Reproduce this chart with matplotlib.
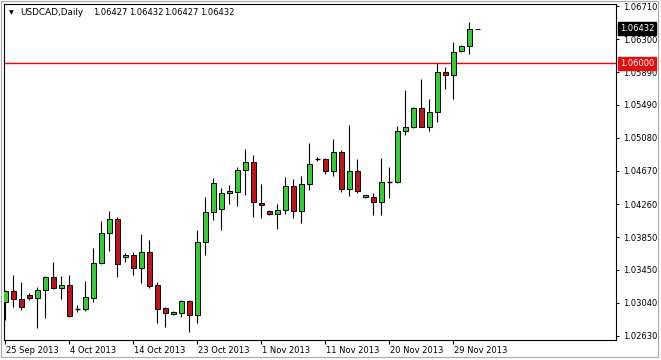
import matplotlib
matplotlib.use("Agg")
import matplotlib.pyplot as plt
import matplotlib.transforms as mtransforms
from matplotlib.patches import Rectangle
import numpy as np
import pandas as pd

# ---- data ----
symbol_title = "USDCAD,Daily"
last_quote = ["1.06427", "1.06432", "1.06427", "1.06432"]
all_days = pd.date_range("2013-09-25", "2013-12-03", freq="D")
dates = all_days[all_days.weekday != 5]  # broker feed has Sunday bars, no Saturday

opens = [
    1.03046, 1.03186, 1.03084, 1.03133, 1.03103, 1.03195, 1.03356, 1.03227, 1.03257, 1.02964,
    1.02960, 1.03103, 1.03529, 1.03900, 1.04073, 1.03603, 1.03628, 1.03474, 1.03665, 1.03257,
    1.02972, 1.02898, 1.02918, 1.03059, 1.02886, 1.03788, 1.04163, 1.04196, 1.04394, 1.04414,
    1.04678, 1.04777, 1.04270, 1.04172, 1.04134, 1.04184, 1.04481, 1.04175, 1.04505, 1.04818,
    1.04818, 1.04674, 1.04901, 1.04451, 1.04666, 1.04345, 1.04352, 1.04290, 1.04534, 1.04534,
    1.05168, 1.05210, 1.05445, 1.05218, 1.05396, 1.05894, 1.05853, 1.06150, 1.06215, 1.06427]
highs = [
    1.03198, 1.03384, 1.03301, 1.03158, 1.03232, 1.03372, 1.03545, 1.03368, 1.03380, 1.03013,
    1.03310, 1.03714, 1.04052, 1.04175, 1.04105, 1.03660, 1.03665, 1.03891, 1.03817, 1.03294,
    1.02992, 1.02933, 1.03069, 1.03075, 1.03940, 1.04345, 1.04580, 1.04456, 1.04497, 1.04723,
    1.04938, 1.04868, 1.04509, 1.04188, 1.04258, 1.04596, 1.04571, 1.04608, 1.05016, 1.04843,
    1.04834, 1.05062, 1.04929, 1.05239, 1.04818, 1.04373, 1.04402, 1.04831, 1.04716, 1.05230,
    1.05671, 1.05465, 1.05807, 1.05560, 1.06001, 1.05952, 1.06261, 1.06224, 1.06508, 1.06432]
lows = [
    1.02828, 1.02992, 1.02951, 1.03075, 1.02725, 1.02849, 1.03207, 1.03091, 1.02868, 1.02930,
    1.02939, 1.03046, 1.03515, 1.03684, 1.03363, 1.03548, 1.03388, 1.03289, 1.03219, 1.02787,
    1.02745, 1.02883, 1.02861, 1.02683, 1.02794, 1.03631, 1.04064, 1.03940, 1.04258, 1.04241,
    1.04377, 1.04097, 1.04085, 1.04126, 1.03949, 1.04134, 1.04085, 1.04023, 1.04435, 1.04793,
    1.04629, 1.04608, 1.04414, 1.04364, 1.04402, 1.04339, 1.04126, 1.04126, 1.04332, 1.04525,
    1.05119, 1.05201, 1.05214, 1.05168, 1.05279, 1.05680, 1.05564, 1.06147, 1.06113, 1.06427]
closes = [
    1.03186, 1.03084, 1.02992, 1.03103, 1.03198, 1.03356, 1.03223, 1.03257, 1.02881, 1.02964,
    1.03108, 1.03532, 1.03900, 1.04073, 1.03516, 1.03628, 1.03474, 1.03665, 1.03252, 1.02967,
    1.02910, 1.02923, 1.03059, 1.02886, 1.03788, 1.04163, 1.04518, 1.04394, 1.04423, 1.04678,
    1.04777, 1.04283, 1.04246, 1.04134, 1.04188, 1.04481, 1.04175, 1.04505, 1.04753, 1.04818,
    1.04674, 1.04901, 1.04451, 1.04666, 1.04426, 1.04369, 1.04290, 1.04530, 1.04534, 1.05161,
    1.05210, 1.05445, 1.05218, 1.05396, 1.05890, 1.05853, 1.06137, 1.06215, 1.06425, 1.06432]

ytick_values = [1.06710, 1.06300, 1.05890, 1.05490, 1.05080, 1.04670,
                1.04260, 1.03850, 1.03450, 1.03040, 1.02630]
xtick_dates = ["2013-09-25", "2013-10-04", "2013-10-14", "2013-10-23",
               "2013-11-01", "2013-11-11", "2013-11-20", "2013-11-29"]
xtick_labels = ["25 Sep 2013", "4 Oct 2013", "14 Oct 2013", "23 Oct 2013",
                "1 Nov 2013", "11 Nov 2013", "20 Nov 2013", "29 Nov 2013"]
level_line = 1.06000
bid_price = 1.06432

# ---- figure ----
W, H = 661, 360
fig = plt.figure(figsize=(W / 100, H / 100), dpi=100)
fig.patch.set_facecolor("white")
ax = fig.add_axes([4 / W, 1 - 340 / H, 612 / W, 336 / H])
ax.set_facecolor("white")

o = np.array(opens); h = np.array(highs); l = np.array(lows); c = np.array(closes)
x = np.arange(len(o))
bull = "#32cd32"
bear = "#c0141a"
bw = 0.62

ax.vlines(x, l, h, color="black", linewidth=0.8, zorder=2)
diff = c - o
doji = np.abs(diff) < 0.00002
body = ~doji
colors = np.where(diff >= 0, bull, bear)
ax.bar(x[body], np.abs(diff[body]), bottom=np.minimum(o, c)[body], width=bw,
       color=colors[body], edgecolor="black", linewidth=0.7, zorder=3)
ax.hlines(o[doji], x[doji] - bw / 2, x[doji] + bw / 2, color="black",
          linewidth=1.0, zorder=3)

ax.axhline(level_line, color="#ff0000", linewidth=1.0, zorder=1)

ax.set_xlim(-0.1625, 76.34)
ax.set_ylim(1.02580, 1.06735)

# y axis on the right
ax.yaxis.tick_right()
ax.set_yticks(ytick_values)
ax.set_yticklabels([f"{v:.5f}" for v in ytick_values])
ax.tick_params(axis="y", direction="out", length=2.5, width=0.8, pad=2.5,
               labelsize=6, colors="black")

date_index = {d.strftime("%Y-%m-%d"): i for i, d in enumerate(dates)}
xpos = [date_index[d] for d in xtick_dates]
ax.set_xticks(xpos)
ax.set_xticklabels(xtick_labels, ha="left")
ax.tick_params(axis="x", direction="out", length=3, width=0.8, pad=1.5,
               labelsize=6, colors="black")
offset = mtransforms.ScaledTranslation(1 / 100, 0, fig.dpi_scale_trans)
for lab in ax.get_xticklabels():
    lab.set_transform(lab.get_transform() + offset)

for s in ax.spines.values():
    s.set_color("black")
    s.set_linewidth(0.8)

# price boxes on the right axis
trans = mtransforms.blended_transform_factory(ax.transAxes, ax.transData)
ax.text(1.006, bid_price, f"{bid_price:.5f}", transform=trans, ha="left",
        va="center", fontsize=6, color="white", clip_on=False, zorder=10,
        bbox=dict(boxstyle="square,pad=0.25", facecolor="black", edgecolor="black"))
ax.text(1.006, level_line, f"{level_line:.5f}", transform=trans, ha="left",
        va="center", fontsize=6, color="white", clip_on=False, zorder=10,
        bbox=dict(boxstyle="square,pad=0.25", facecolor="#e01010", edgecolor="#e01010"))

# header
fig.text(9 / W, 1 - 13 / H, "\u25BC", fontsize=4.5, va="center", ha="left", color="black")
fig.text(20 / W, 1 - 12.5 / H, symbol_title, fontsize=6.4, va="center", ha="left")
xstart = 93
for q in last_quote:
    fig.text(xstart / W, 1 - 12.5 / H, q, fontsize=6, va="center", ha="left")
    xstart += 35.7

# outer window border
fig.patches.append(Rectangle((0.5 / W, 3 / H), 657.5 / W, 356.5 / H, transform=fig.transFigure,
                             fill=False, edgecolor="#a8a8a8", linewidth=0.8))

fig.savefig("out.png", dpi=100, facecolor="white")
